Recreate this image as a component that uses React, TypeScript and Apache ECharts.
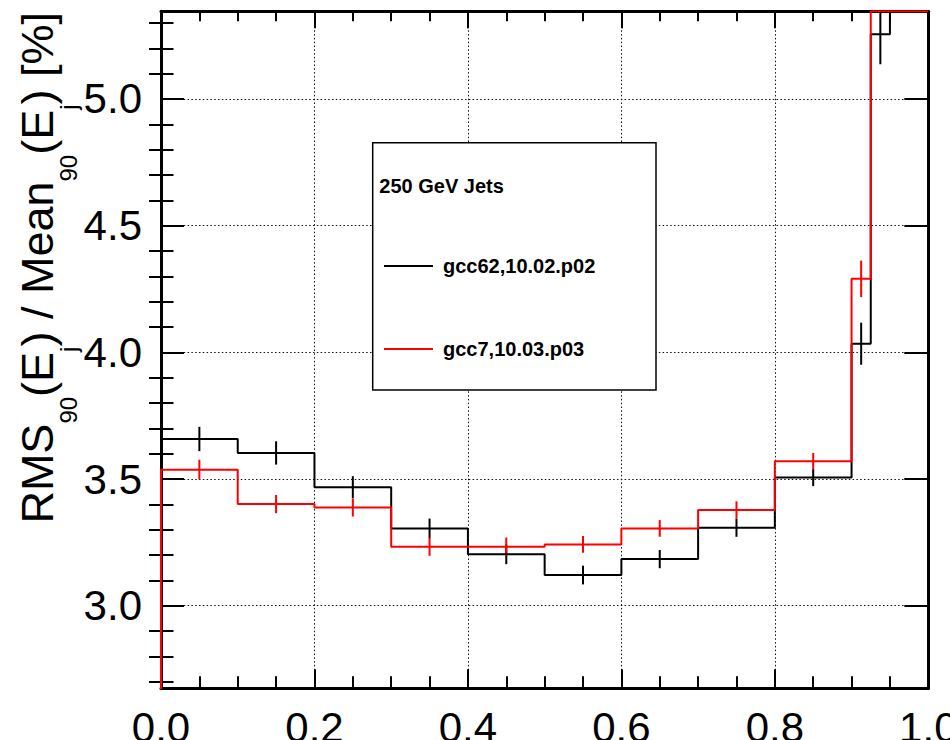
import React, { useEffect, useRef } from "react";
import * as echarts from "echarts";

// ---- data ----
const binEdges = [0, 0.1, 0.2, 0.3, 0.4, 0.5, 0.6, 0.7, 0.8, 0.9, 0.925, 0.95, 0.975, 1.0];
const gcc62Values = [3.658, 3.603, 3.468, 3.305, 3.203, 3.121, 3.184, 3.308, 3.506, 4.034, 5.255, 6.1, 6.9];
const gcc62Errors = [0.048, 0.046, 0.043, 0.039, 0.039, 0.037, 0.036, 0.036, 0.034, 0.083, 0.118, 0.15, 0.2];
const gcc7Values = [3.537, 3.401, 3.388, 3.233, 3.233, 3.242, 3.305, 3.378, 3.57, 4.29, 5.6, 6.2, 7.0];
const gcc7Errors = [0.039, 0.036, 0.036, 0.036, 0.036, 0.033, 0.033, 0.034, 0.033, 0.072, 0.12, 0.15, 0.2];
const xTickLabels = ["0.0", "0.2", "0.4", "0.6", "0.8", "1.0"];
const yMajorTicks = [3.0, 3.5, 4.0, 4.5, 5.0];
const yMinorTicks = [2.7, 2.8, 2.9, 3.1, 3.2, 3.3, 3.4, 3.6, 3.7, 3.8, 3.9, 4.1, 4.2, 4.3, 4.4, 4.6, 4.7, 4.8, 4.9, 5.1, 5.2, 5.3];
const seriesNames = ["gcc62,10.02.p02", "gcc7,10.03.p03"];
const legendTitle = "250 GeV Jets";
// y-axis title pieces: [text, isSubscript]
const yTitlePieces: [string, boolean][] = [
  ["RMS", false],
  ["90", true],
  ["(E", false],
  ["j", true],
  [") / Mean", false],
  ["90", true],
  ["(E", false],
  ["j", true],
  [") [%]", false],
];
const X_MIN = 0;
const X_MAX = 1;
const Y_MIN = 2.674;
const Y_MAX = 5.346;

const FONT = "Liberation Sans, Arial, Helvetica, sans-serif";
const TITLE_MAIN = 45;
const TITLE_SUB = 24;

function histPoints(values: number[]) {
  // ROOT draws off-scale bins along the frame edge
  const pts: number[][] = [[binEdges[0], 0]];
  values.forEach((v, i) => pts.push([binEdges[i], Math.min(v, Y_MAX)]));
  pts.push([binEdges[binEdges.length - 1], Math.min(values[values.length - 1], Y_MAX)]);
  return pts;
}

function errPoints(values: number[], errs: number[]) {
  return values.map((v, i) => [(binEdges[i] + binEdges[i + 1]) / 2, v, errs[i]]);
}

function errSeries(name: string, values: number[], errs: number[], color: string) {
  return {
    type: "custom",
    name,
    xAxisIndex: 0,
    yAxisIndex: 0,
    data: errPoints(values, errs),
    encode: { x: 0, y: 1 },
    renderItem: (params: any, api: any) => {
      const x = api.value(0);
      const v = api.value(1);
      const e = api.value(2);
      const lo = Math.max(v - e, Y_MIN);
      const hi = Math.min(v + e, Y_MAX);
      if (lo >= hi) return { type: "group", children: [] };
      const p1 = api.coord([x, lo]);
      const p2 = api.coord([x, hi]);
      return {
        type: "line",
        shape: { x1: p1[0], y1: p1[1], x2: p2[0], y2: p2[1] },
        style: { stroke: color, lineWidth: 2 },
      };
    },
  };
}

function histSeries(name: string, values: number[], color: string) {
  return {
    type: "line",
    name,
    xAxisIndex: 0,
    yAxisIndex: 0,
    step: "end",
    symbol: "none",
    showSymbol: false,
    data: histPoints(values),
    lineStyle: { color, width: 2 },
    itemStyle: { color },
    clip: true,
  };
}

const dotted = { type: [1.5, 2.3], color: "#111", width: 1 };

function yAxisBase(position: string) {
  return {
    type: "value",
    position,
    min: Y_MIN,
    max: Y_MAX,
    splitNumber: 5,
    axisLine: { show: false },
    axisLabel: { show: false },
    splitLine: { show: false },
    axisTick: { show: false },
  };
}

function buildYTitle() {
  const ctx = document.createElement("canvas").getContext("2d")!;
  const widths = yTitlePieces.map(([t, sub]) => {
    ctx.font = `${sub ? TITLE_SUB : TITLE_MAIN}px "Liberation Sans"`;
    return ctx.measureText(t).width;
  });
  const total = widths.reduce((a, b) => a + b, 0);
  let cur = -total;
  const children = yTitlePieces.map(([t, sub], i) => {
    const el = {
      type: "text",
      x: cur,
      y: sub ? 30.7 : 0,
      style: {
        text: t,
        fontSize: sub ? TITLE_SUB : TITLE_MAIN,
        fontFamily: FONT,
        fill: "#000",
        align: "left",
        verticalAlign: "middle",
      },
    };
    cur += widths[i];
    return el;
  });
  return { type: "group", x: 37.7, y: 12, rotation: Math.PI / 2, z: 7, children };
}

function buildOption(): any {
  return {
    animation: false,
    backgroundColor: "#fff",
    grid: {
      left: 161,
      top: 11.3,
      right: 21.7,
      bottom: 51.7,
      containLabel: false,
      outerBoundsMode: "none",
    },
    xAxis: [
      {
        type: "value",
        position: "bottom",
        min: X_MIN,
        max: X_MAX,
        interval: 0.2,
        axisLine: { show: true, onZero: false, lineStyle: { color: "#000", width: 3 } },
        axisTick: { show: true, inside: true, length: 19, lineStyle: { color: "#000", width: 2 } },
        minorTick: { show: true, splitNumber: 4, length: 12, lineStyle: { color: "#000", width: 2 } },
        splitLine: { show: true, lineStyle: dotted },
        axisLabel: {
          show: true,
          margin: 18,
          fontSize: 42,
          fontFamily: FONT,
          color: "#000",
          formatter: (v: number) => xTickLabels[Math.round(v / 0.2)] ?? "",
        },
      },
      {
        type: "value",
        position: "top",
        min: X_MIN,
        max: X_MAX,
        interval: 0.2,
        axisLine: { show: true, onZero: false, lineStyle: { color: "#000", width: 3 } },
        axisTick: { show: true, inside: true, length: 17, lineStyle: { color: "#000", width: 2 } },
        minorTick: { show: true, splitNumber: 4, length: 10, lineStyle: { color: "#000", width: 2 } },
        splitLine: { show: false },
        axisLabel: { show: false },
      },
    ],
    yAxis: [
      {
        ...yAxisBase("left"),
        axisLine: { show: true, onZero: false, lineStyle: { color: "#000", width: 3 } },
        axisTick: {
          show: true,
          inside: true,
          length: 23,
          customValues: yMajorTicks,
          lineStyle: { color: "#000", width: 2 },
        },
        splitLine: { show: true, lineStyle: dotted },
        axisLabel: {
          show: true,
          customValues: yMajorTicks,
          margin: 19,
          fontSize: 42,
          fontFamily: FONT,
          color: "#000",
          formatter: (v: number) =>
            Math.abs(v * 2 - Math.round(v * 2)) < 1e-6 ? v.toFixed(1) : "",
        },
      },
      {
        ...yAxisBase("left"),
        axisTick: {
          show: true,
          inside: true,
          length: 12.5,
          customValues: yMinorTicks,
          lineStyle: { color: "#000", width: 2 },
        },
      },
      {
        ...yAxisBase("right"),
        axisLine: { show: true, onZero: false, lineStyle: { color: "#000", width: 3 } },
        axisTick: {
          show: true,
          inside: true,
          length: 24,
          customValues: yMajorTicks,
          lineStyle: { color: "#000", width: 2 },
        },
      },
      {
        ...yAxisBase("right"),
        axisTick: {
          show: true,
          inside: true,
          length: 12,
          customValues: yMinorTicks,
          lineStyle: { color: "#000", width: 2 },
        },
      },
    ],
    legend: {
      data: seriesNames.map((name) => ({ name, icon: "rect" })),
      orient: "vertical",
      left: 384,
      top: 256,
      padding: 0,
      itemWidth: 49,
      itemHeight: 2,
      itemGap: 63,
      selectedMode: false,
      z: 6,
      textStyle: {
        fontSize: 20,
        fontWeight: "bold",
        color: "#000",
        fontFamily: FONT,
        padding: [0, 0, 0, 5],
      },
    },
    graphic: [
      {
        type: "rect",
        z: 4,
        shape: { x: 372.7, y: 142.7, width: 283.3, height: 247.3 },
        style: { fill: "#fff", stroke: "#000", lineWidth: 1.5 },
      },
      {
        type: "text",
        z: 7,
        x: 379.3,
        y: 185.8,
        style: {
          text: legendTitle,
          fontSize: 20,
          fontWeight: "bold",
          fontFamily: FONT,
          fill: "#000",
          align: "left",
          verticalAlign: "middle",
        },
      },
      buildYTitle(),
    ],
    series: [
      histSeries(seriesNames[0], gcc62Values, "#000"),
      errSeries("err62", gcc62Values, gcc62Errors, "#000"),
      histSeries(seriesNames[1], gcc7Values, "#ff0000"),
      errSeries("err7", gcc7Values, gcc7Errors, "#ff0000"),
    ],
  };
}

export default function App() {
  const ref = useRef<HTMLDivElement>(null);
  useEffect(() => {
    document.body.style.margin = "0";
    document.body.style.overflow = "hidden";
    const chart = echarts.init(ref.current!, null, { renderer: "svg" });
    chart.setOption(buildOption());
    return () => chart.dispose();
  }, []);
  return <div ref={ref} style={{ width: 950, height: 740 }} />;
}
